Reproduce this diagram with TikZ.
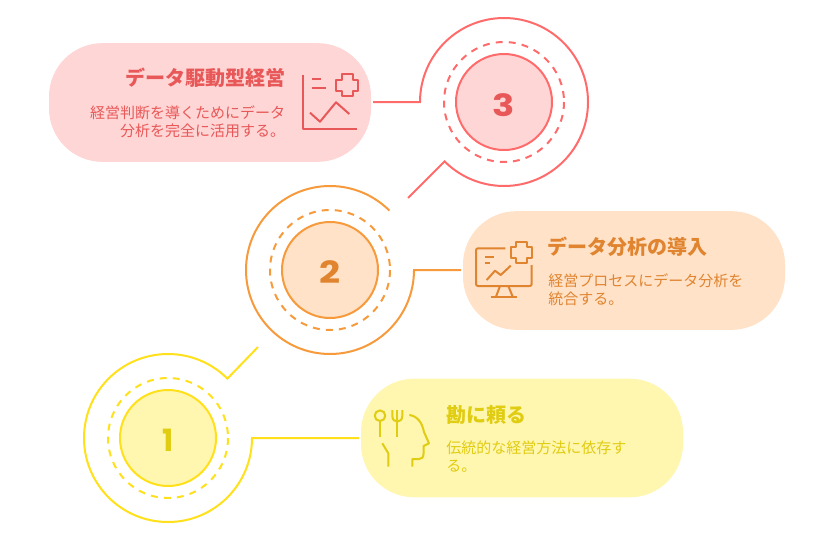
\documentclass[tikz,border=0pt]{standalone}
\usepackage{fontspec}
\setmainfont{Noto Sans CJK JP}
\newfontfamily\numfont{Poppins}
\definecolor{redfill}{HTML}{FFD6D6}
\definecolor{redline}{HTML}{FF6B6B}
\definecolor{redtext}{HTML}{E85858}
\definecolor{orgfill}{HTML}{FFE2C8}
\definecolor{orgline}{HTML}{F79A3C}
\definecolor{orgtext}{HTML}{E0842F}
\definecolor{yelfill}{HTML}{FFF6B0}
\definecolor{yelline}{HTML}{FFE01A}
\definecolor{yeltext}{HTML}{E0CC10}
\tikzset{
  pill/.style={rectangle, rounded corners=40pt, minimum width=241.5pt, minimum height=89pt, inner sep=0pt, fill=#1},
  disc/.style={circle, minimum size=72pt, inner sep=0pt, line width=1.5pt},
  digit/.style={inner sep=0pt, xscale=1.2, font=\numfont\bfseries\fontsize{23}{23}\selectfont},
  ring/.style={draw=#1, line width=1.5pt, dash pattern=on 5.2pt off 4.6pt},
  wire/.style={draw=#1, line width=1.5pt, miter limit=10},
  icon/.style={draw=#1, line width=1.5pt, line join=round},
  title/.style={inner sep=0pt, font=\bfseries\fontsize{15}{18}\selectfont},
  body/.style={inner sep=0pt, font=\fontsize{11.25}{13.5}\selectfont}
}
\begin{document}
\begin{tikzpicture}[x=.75pt, y=-.75pt]
\useasboundingbox (0,0) rectangle (834,539);
\node[pill=redfill] (pill3) at (210,102.5){};
\node[pill=orgfill] (pill2) at (624,270.5){};
\node[pill=yelfill] (pill1) at (522,438){};
\node[disc, fill=redfill, draw=redline] (num3) at (504,102){};
\node[disc, fill=orgfill, draw=orgline] (num2) at (330,270){};
\node[disc, fill=yelfill, draw=yelline] (num1) at (168,438){};
\node[digit, text=redtext] (digit3) at (504,105){3};
\node[digit, text=orgtext] (digit2) at (330.5,272.5){2};
\node[digit, xscale=.8, text=yeltext] (digit1) at (168,440){1};
\draw[ring=redline] (num3) circle[radius=60];
\draw[ring=orgline] (num2) circle[radius=60];
\draw[ring=yelline] (num1) circle[radius=60];
\coordinate (hook3) at (420,102);
\coordinate (hook2) at (414,270);
\coordinate (hook1) at (252,438);
\coordinate (tail3) at (408,198);
\coordinate (tail1) at (258,347);
\draw[wire=redline] (pill3) ++(161,-.5) ++(2,0) -- (hook3) arc[start angle=180, end angle=495, radius=84] -- (tail3);
\draw[wire=orgline] (pill2) ++(-161,-.5) ++(-2,0) -- (hook2) arc[start angle=0, end angle=315, radius=84];
\draw[wire=yelline] (pill1) ++(-161,0) ++(-2,0) -- (hook1) arc[start angle=0, end angle=315, radius=84] -- (tail1);
\node[title, text=redtext, anchor=east] (head3) at (285.5,78){データ駆動型経営};
\node[body, text=redtext, anchor=east, align=right] (text3) at (285.5,121.5){経営判断を導くためにデータ\\分析を完全に活用する。};
\node[title, text=orgtext, anchor=west] (head2) at (547.5,247){データ分析の導入};
\node[body, text=orgtext, anchor=west, align=left] (text2) at (548,290){経営プロセスにデータ分析を\\統合する。};
\node[title, text=yeltext, anchor=west] (head1) at (446,415){勘に頼る};
\node[body, text=yeltext, anchor=west, align=left] (text1) at (446,457){伝統的な経営方法に依存す\\る。};
\draw[icon=redtext] (302.7,75) -- (302.7,129) -- (356.7,129);
\draw[icon=redtext] (311.7,79.3) -- (320.7,79.3);
\draw[icon=redtext] (311.7,88) -- (325.7,88);
\draw[icon=redtext] (341.5,74) -- (352.5,74) -- (352.5,79.5) -- (358,79.5) -- (358,90.5) -- (352.5,90.5) -- (352.5,96) -- (341.5,96) -- (341.5,90.5) -- (336,90.5) -- (336,79.5) -- (341.5,79.5) -- cycle;
\draw[icon=redtext] (310,112.7) -- (320,121.7) -- (336,102.3) -- (349.3,114);
\draw[icon=orgtext, rounded corners=1.5pt] (505.3,248.3) -- (476,248.3) -- (476,286) -- (531.7,286) -- (531.7,265);
\draw[icon=orgtext] (496,296.7) -- (500,286);
\draw[icon=orgtext] (512.7,296.7) -- (508.3,286);
\draw[icon=orgtext] (490.7,297.3) -- (517.3,297.3);
\draw[icon=orgtext] (516,242) -- (526.6,242) -- (526.6,247.3) -- (532,247.3) -- (532,258) -- (526.6,258) -- (526.6,263.3) -- (516,263.3) -- (516,258) -- (510.6,258) -- (510.6,247.3) -- (516,247.3) -- cycle;
\draw[icon=orgtext] (485,256.7) -- (494.3,256.7);
\draw[icon=orgtext] (485,263.3) -- (490,263.3);
\draw[icon=orgtext] (486.7,280) -- (495,270.7) -- (500.7,275) -- (510.7,265.7);
\draw[icon=yeltext] (380,415.7) circle[radius=5.3];
\draw[icon=yeltext] (380,421) -- (380,436.7);
\draw[icon=yeltext] (397.3,410) -- (397.3,436.7);
\draw[icon=yeltext] (392.3,410) -- (392.3,416) .. controls (392.3,420) and (395,421.5) .. (397.3,421.5) .. controls (399.6,421.5) and (402.3,420) .. (402.3,416) -- (402.3,410);
\draw[icon=yeltext] (382.3,443.3) -- (388.3,453.3) -- (388.3,466.7);
\draw[icon=yeltext] (409.3,415) .. controls (417,416) and (422,422) .. (424,432) -- (429,443.3) -- (423.5,446) -- (423.5,454) .. controls (423.5,457.5) and (421.5,459) .. (419,459) -- (412.3,459) -- (412.3,466.7);
\end{tikzpicture}
\end{document}
